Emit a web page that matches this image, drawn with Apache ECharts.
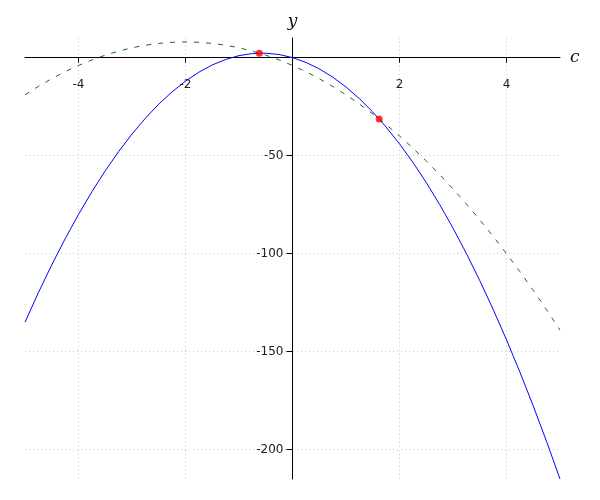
<!DOCTYPE html>
<html>
<head>
<meta charset="utf-8">
<script src="https://cdn.jsdelivr.net/npm/echarts@6/dist/echarts.min.js"></script>
<style>html,body{margin:0;padding:0;background:#fff}#c{width:600px;height:500px}</style>
</head>
<body>
<div id="c"></div>
<script>
const xValues = [-5,-4.75,-4.5,-4.25,-4,-3.75,-3.5,-3.25,-3,-2.75,-2.5,-2.25,-2,-1.75,-1.5,-1.25,-1,-0.75,-0.5,-0.25,0,0.25,0.5,0.75,1,1.25,1.5,1.75,2,2.25,2.5,2.75,3,3.25,3.5,3.75,4,4.25,4.5,4.75,5];
const blueValues = [-135,-119.94,-105.75,-92.44,-80,-68.44,-57.75,-47.94,-39,-30.94,-23.75,-17.44,-12,-7.44,-3.75,-0.94,1,2.06,2.25,1.56,0,-2.44,-5.75,-9.94,-15,-20.94,-27.75,-35.44,-44,-53.44,-63.75,-74.94,-87,-99.94,-113.75,-128.44,-144,-160.44,-177.75,-195.94,-215];
const greenValues = [-19,-14.69,-10.75,-7.19,-4,-1.19,1.25,3.31,5,6.31,7.25,7.81,8,7.81,7.25,6.31,5,3.31,1.25,-1.19,-4,-7.19,-10.75,-14.69,-19,-23.69,-28.75,-34.19,-40,-46.19,-52.75,-59.69,-67,-74.69,-82.75,-91.19,-100,-109.19,-118.75,-128.69,-139];
const pointX = [-0.62, 1.62];
const pointY = [2.27, -31.27];
const xTicks = [-4, -2, 2, 4];
const yTicks = [-200, -150, -100, -50];
const xMin = -5, xMax = 5, yMin = -215, yMax = 10;

const blueData = xValues.map((x, i) => [x, blueValues[i]]);
const greenData = xValues.map((x, i) => [x, greenValues[i]]);
const pointData = pointX.map((x, i) => [x, pointY[i]]);

const G = {left: 25, right: 40, top: 38, bottom: 21};
const W = 600, H = 500;
const gw = W - G.left - G.right, gh = H - G.top - G.bottom;
// offsets place the axis lines through the origin
const yAxisOffset = -((0 - xMin) / (xMax - xMin)) * gw;
const xAxisOffset = -((yMax - 0) / (yMax - yMin)) * gh;

const chart = echarts.init(document.getElementById('c'), null, {renderer: 'canvas'});
const labelFont = {fontFamily: 'DejaVu Sans', fontSize: 12, color: '#222'};
chart.setOption({
  animation: false,
  grid: Object.assign({containLabel: false, outerBoundsMode: 'none'}, G),
  xAxis: {
    type: 'value', min: xMin, max: xMax, position: 'top', offset: xAxisOffset,
    name: 'c', nameLocation: 'end', nameGap: 10,
    nameTextStyle: {fontFamily: 'DejaVu Serif', fontStyle: 'italic', fontSize: 17, color: '#111', verticalAlign: 'middle'},
    axisLine: {show: true, onZero: false, lineStyle: {color: '#000', width: 1}},
    axisTick: {show: true, inside: true, length: 5, customValues: xTicks, lineStyle: {color: '#000'}},
    axisLabel: Object.assign({customValues: xTicks, inside: true, margin: 21}, labelFont),
    splitLine: {show: true, lineStyle: {type: [1, 3], color: '#c8c8c8', width: 1}}
  },
  yAxis: {
    type: 'value', min: yMin, max: yMax, position: 'left', offset: yAxisOffset,
    name: 'y', nameLocation: 'end', nameGap: 8,
    nameTextStyle: {fontFamily: 'DejaVu Serif', fontStyle: 'italic', fontSize: 17, color: '#111', align: 'center'},
    axisLine: {show: true, onZero: false, lineStyle: {color: '#000', width: 1}},
    axisTick: {show: true, length: 6, customValues: yTicks, lineStyle: {color: '#000'}},
    axisLabel: Object.assign({customValues: yTicks, margin: 9}, labelFont),
    splitLine: {show: true, lineStyle: {type: [1, 3], color: '#c8c8c8', width: 1}}
  },
  series: [
    {type: 'line', data: blueData, showSymbol: false, smooth: false,
     lineStyle: {color: '#0000ff', width: 1}, z: 3},
    {type: 'line', data: greenData, showSymbol: false, smooth: false,
     lineStyle: {color: '#1a6b1a', width: 1, type: [5, 7]}, z: 3},
    {type: 'scatter', data: pointData, symbolSize: 7,
     itemStyle: {color: '#ff0000'}, z: 5}
  ]
});
</script>
</body>
</html>
